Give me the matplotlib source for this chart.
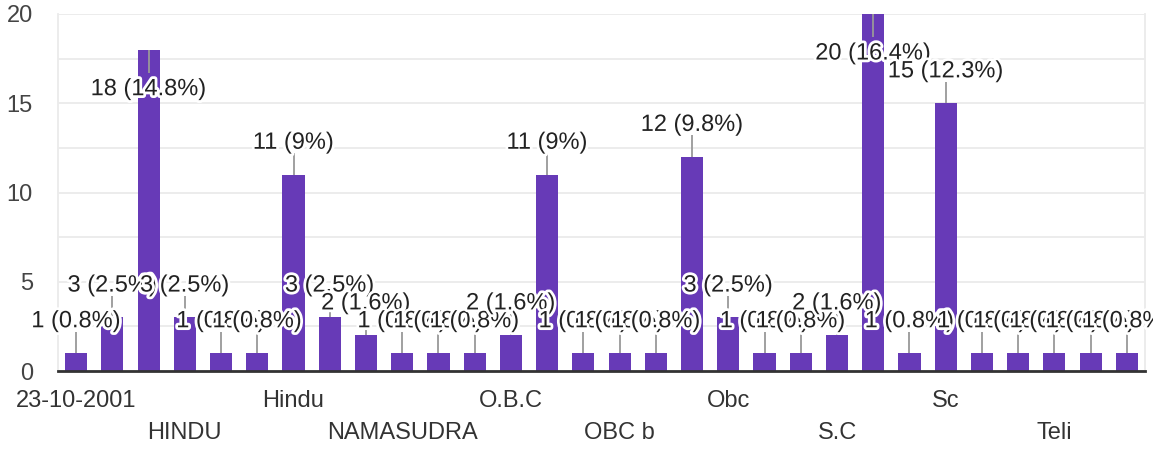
import matplotlib
matplotlib.use("Agg")
import matplotlib.pyplot as plt
import matplotlib.patheffects as pe
from matplotlib.ticker import MultipleLocator, FixedLocator

# ---- data ----
# only every third category name is printed in the reference; the others are unreadable
categories = ["23-10-2001", "", "", "HINDU", "", "", "Hindu", "", "", "NAMASUDRA",
              "", "", "O.B.C", "", "", "OBC b", "", "", "Obc", "", "",
              "S.C", "", "", "Sc", "", "", "Teli", "", ""]
counts = [1, 3, 18, 3, 1, 1, 11, 3, 2, 1, 1, 1, 2, 11, 1, 1, 1, 12, 3, 1,
          1, 2, 20, 1, 15, 1, 1, 1, 1, 1]
y_ticks = [0, 5, 10, 15, 20]

BAR = "#673ab7"
FONT = ["Liberation Sans", "DejaVu Sans"]
plt.rcParams["font.family"] = FONT
FS = 17

fig = plt.figure(figsize=(11.53, 4.5), dpi=100)
ax = fig.add_axes([58 / 1153, 1 - 371 / 450, (1145 - 58) / 1153, (371 - 14) / 450])

n = len(counts)
xs = list(range(n))
ymax = 20
ax.set_xlim(-0.5, n - 0.5)
ax.set_ylim(0, ymax)

ax.bar(xs, counts, width=0.61, color=BAR, zorder=2)

# grid
ax.yaxis.set_major_locator(FixedLocator(y_ticks))
ax.yaxis.set_minor_locator(MultipleLocator(2.5))
ax.grid(axis="y", which="both", color="#ebebeb", lw=1.3, zorder=0)
ax.set_axisbelow(True)

for s in ["top"]:
    ax.spines[s].set_visible(False)
for s in ["left", "right"]:
    ax.spines[s].set_color("#ebebeb")
    ax.spines[s].set_linewidth(1.3)
ax.spines["bottom"].set_color("#333333")
ax.spines["bottom"].set_linewidth(2.0)
ax.spines["bottom"].set_zorder(3)

ax.tick_params(axis="y", which="both", length=0, pad=18, labelsize=FS, labelcolor="#444444")

# x labels in two staggered rows
row1 = [i for i, c in enumerate(categories) if c and (i // 3) % 2 == 0]
row2 = [i for i, c in enumerate(categories) if c and (i // 3) % 2 == 1]
ax.set_xticks(row1)
ax.set_xticklabels([categories[i] for i in row1])
ax.set_xticks(row2, minor=True)
ax.set_xticklabels([categories[i] for i in row2], minor=True)
ax.tick_params(axis="x", which="major", length=0, pad=13.5, labelsize=FS, labelcolor="#333333")
ax.tick_params(axis="x", which="minor", length=0, pad=37, labelsize=FS, labelcolor="#333333")

# data labels with leader lines
total = sum(counts)
halo = [pe.withStroke(linewidth=4, foreground="white")]
for i, v in enumerate(counts):
    pct = round(100 * v / total, 1)
    pct_s = ("%.1f" % pct).rstrip("0").rstrip(".")
    label = f"{v} ({pct_s}%)"
    if v + 2.45 > ymax:
        ax.plot([i, i], [v, v - 1.3], color="#999999", lw=1.3, zorder=3, solid_capstyle="butt")
        ty = v - 2.55
    else:
        ax.plot([i, i], [v, v + 1.2], color="#999999", lw=1.3, zorder=3, solid_capstyle="butt")
        ty = v + 1.45
    ax.text(i, ty, label, ha="center", va="baseline", fontsize=FS, color="#222222",
            path_effects=halo, zorder=5)

fig.savefig("out.png", dpi=100)
